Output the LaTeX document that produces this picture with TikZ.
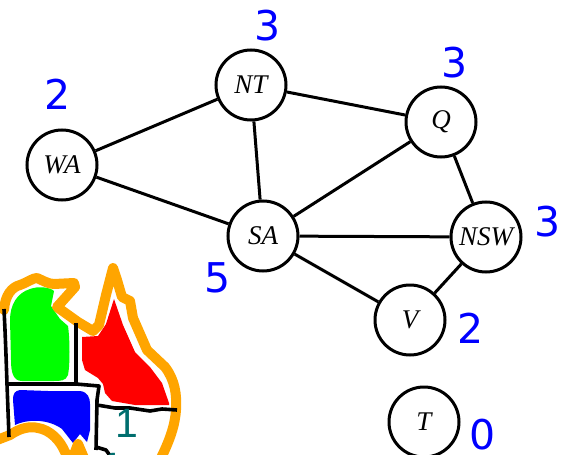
\documentclass[tikz,border=0pt]{standalone}
\usepackage{fontspec}
\setsansfont{DejaVu Sans}
\setmainfont{Liberation Serif}
\newfontfamily\onefont{Liberation Sans}
\definecolor{mapor}{RGB}{255,165,0}
\definecolor{tealn}{RGB}{0,110,110}
\tikzset{
  region/.style={circle,draw=black,line width=3pt,minimum size=70pt,inner sep=0pt,fill=white,font=\rmfamily\fontsize{27}{29}\selectfont\itshape},
  edgeline/.style={line width=3pt,black},
  degree/.style={text=blue,font=\sffamily\fontsize{41}{44}\selectfont,inner sep=0pt},
  tealdigit/.style={text=tealn,font=\onefont\fontsize{41}{44}\selectfont,inner sep=0pt},
  coast/.style={draw=mapor,line width=10pt,line join=round,line cap=round},
  border/.style={draw=black,line width=3.6pt,line join=round}
}
\begin{document}
\begin{tikzpicture}[x=1pt,y=-1pt]
\useasboundingbox (0,0) rectangle (563,455);
% map
\begin{scope}
\clip (0,0) rectangle (563,455);
\fill[green] (30,289) .. controls (38,286) and (50,287) .. (54,291) -- (51,306) -- (60,319) -- (68,326) .. controls (70,340) and (70,365) .. (68,375) .. controls (66,381) and (60,381) .. (54,381) -- (22,381) .. controls (13,381) and (11,372) .. (11,360) -- (10,320) .. controls (10,305) and (17,293) .. (30,289) -- cycle;
\fill[red] (114,299) -- (123,325) -- (135,352) -- (150,367) -- (162,383) -- (169,403) -- (169,405) -- (135,405) -- (112,401) -- (105,393) -- (103,384) -- (98,378) -- (85,370) -- (82,360) -- (82,337) -- (98,336) -- (106,324) -- cycle;
\fill[blue] (20,390) -- (48,391) -- (80,391) .. controls (88,392) and (90,398) .. (90,404) -- (90,430) -- (87,442) -- (80,434) -- (73,443) -- (62,429) .. controls (50,420) and (30,418) .. (15,425) -- (13,400) .. controls (13,393) and (15,391) .. (20,390) -- cycle;
\draw[coast] (4,310) .. controls (5,295) and (12,287) .. (20,285) .. controls (28,282) and (33,278) .. (37,278) .. controls (42,280) and (48,284) .. (54,284) -- (74,283) -- (75,287) -- (57,307) -- (78,322) -- (93,331) -- (99,325) -- (106,295) -- (113,268) -- (117,280) -- (122,297) -- (130,301) -- (133,318) -- (147,350) -- (165,367) .. controls (175,380) and (177,395) .. (176,410) .. controls (175,425) and (170,440) .. (160,460);
\draw[coast] (-3,440) -- (10,435) .. controls (20,428) and (30,426) .. (38,428) .. controls (50,430) and (60,440) .. (65,452) -- (72,460) -- (78,444) -- (84,458);
\draw[border] (4,309) -- (5,330) -- (6,355) -- (7,384) -- (9,437);
\draw[border] (7,384) -- (76,384) -- (99,386) -- (97,400) -- (96,450);
\draw[border] (76,323) -- (76,384);
\draw[border] (97,405) -- (115,408) -- (130,408) -- (150,411) -- (162,409) -- (177,410);
\draw[border] (96,447) -- (106,450) -- (111,457);
\end{scope}
\node[tealdigit] (one) at (127,423) {1};
\node[tealdigit] (onelow) at (113,467) {1};
% graph
\node[region] (NT) at (251,85) {NT};
\node[region] (Q) at (441,122) {Q};
\node[region] (WA) at (62,165) {WA};
\node[region] (SA) at (263,236) {SA};
\node[region] (NSW) at (486,237) {NSW};
\node[region] (V) at (410,320) {V};
\node[region] (T) at (424,422) {T};
\draw[edgeline] (WA) -- (NT);
\draw[edgeline] (WA) -- (SA);
\draw[edgeline] (NT) -- (Q);
\draw[edgeline] (NT) -- (SA);
\draw[edgeline] (SA) -- (Q);
\draw[edgeline] (SA) -- (NSW);
\draw[edgeline] (SA) -- (V);
\draw[edgeline] (Q) -- (NSW);
\draw[edgeline] (NSW) -- (V);
% degrees
\node[degree] (dNT) at (268,26) {3};
\node[degree] (dQ) at (455,63) {3};
\node[degree] (dWA) at (58,94) {2};
\node[degree] (dNSW) at (548,222) {3};
\node[degree] (dSA) at (218,278) {5};
\node[degree] (dV) at (471,328) {2};
\node[degree] (dT) at (483,435) {0};
\end{tikzpicture}
\end{document}
